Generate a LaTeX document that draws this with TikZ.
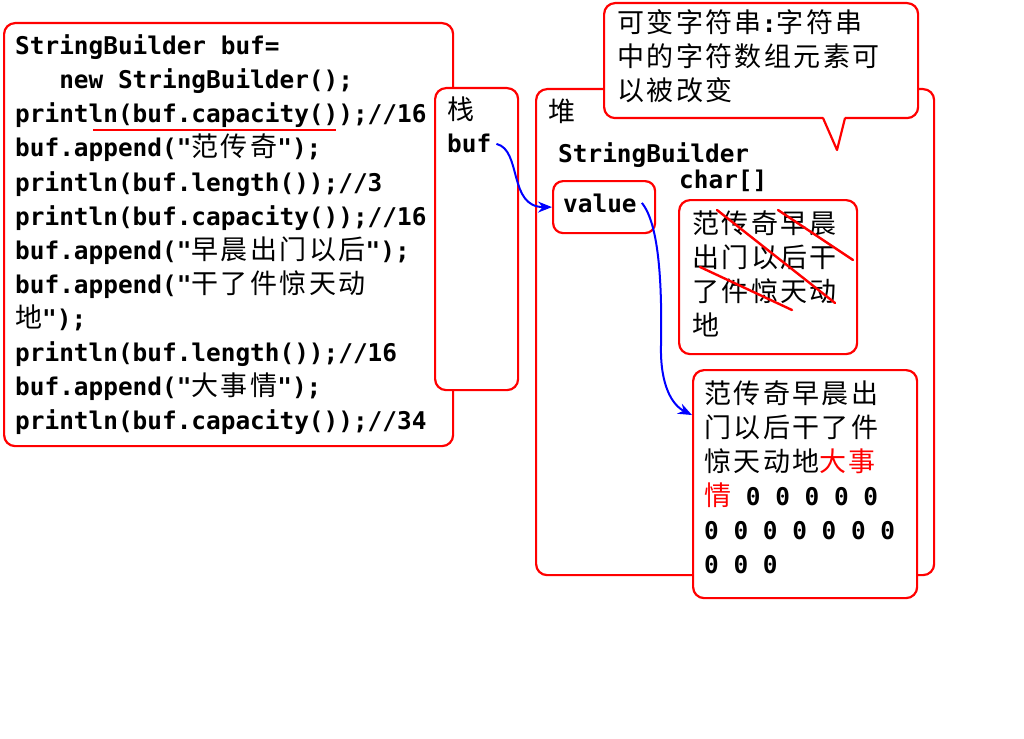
\documentclass[tikz,border=0pt]{standalone}
\usepackage{fontspec}
\usetikzlibrary{arrows.meta}
\usetikzlibrary{calc}
\newfontfamily\codefont[UprightFont=* Bold]{DejaVu Sans Mono}
\newfontfamily\cjkfont[LetterSpace=9]{Noto Sans CJK SC}
\newcommand{\codesize}{\fontsize{24.4}{34}\selectfont}
\newcommand{\hanzi}[1]{{\fontsize{27}{34}\selectfont\cjkfont #1}}
\tikzset{
  box/.style={draw=red, line width=2.2pt, rounded corners=11pt, fill=white, inner sep=0pt, anchor=north west},
  txt/.style={anchor=base west, inner sep=0pt, font=\codesize\codefont},
  ptr/.style={draw=blue, line width=2pt, -{Stealth[length=14pt,width=11pt]}},
  strike/.style={draw=red, line width=2.4pt, line cap=round}
}
\begin{document}
\begin{tikzpicture}[x=1pt,y=-1pt]
  \useasboundingbox (0,0) rectangle (1024,738);
  \node[box, minimum width=449pt, minimum height=423pt] (code) at (3,22) {};
  \foreach \codeline [count=\n] in {
      {StringBuilder buf=},
      {\ \ \ new StringBuilder();},
      {println(buf.capacity());//16},
      {buf.append("\hanzi{范传奇}");},
      {println(buf.length());//3},
      {println(buf.capacity());//16},
      {buf.append("\hanzi{早晨出门以后}");},
      {buf.append("\hanzi{干了件惊天动}},
      {\hanzi{地}");},
      {println(buf.length());//16},
      {buf.append("\hanzi{大事情}");},
      {println(buf.capacity());//34}}
    \node[txt] (codeline\n) at (15,{21+34*\n}) {\codeline};
  \draw[strike, line cap=butt, line width=2.8pt] (93,130) -- (336,130);
  \node[box, minimum width=83pt, minimum height=302pt] (stack) at (434,87) {};
  \node[txt] (stacklabel) at (447,120) {\hanzi{栈}};
  \node[txt] (buf) at (447,153) {buf};
  \node[box, minimum width=398pt, minimum height=486pt] (heap) at (535,88) {};
  \node[box, minimum width=314pt, minimum height=115pt] (note) at (603,2) {};
  \fill[white] (823,116) -- (837,150) -- (845,116) -- cycle;
  \draw[red, line width=2.2pt, line join=round] (823,118) -- (837,150) -- (845,118);
  \foreach \noteline [count=\n] in {
      {\hanzi{可变字符串}:\hanzi{字符串}},
      {\hanzi{中的字符数组元素可}},
      {\hanzi{以被改变}}}
    \node[txt] (noteline\n) at (617,{-1+34*\n}) {\noteline};
  \node[txt] (heaplabel) at (548,122) {\hanzi{堆}};
  \node[txt] (sbtype) at (558,163) {StringBuilder};
  \node[txt] (chartype) at (679,188) {char[]};
  \node[box, minimum width=102pt, minimum height=52pt, rounded corners=10pt] (value) at (552,180) {};
  \node[txt] (valuetext) at (563,212) {value};
  \node[box, minimum width=178pt, minimum height=154pt] (chars) at (678,199) {};
  \foreach \charline [count=\n] in {
      {\hanzi{范传奇早晨}},
      {\hanzi{出门以后干}},
      {\hanzi{了件惊天动}},
      {\hanzi{地}}}
    \node[txt] (charline\n) at (692,{199+34*\n}) {\charline};
  \draw[strike] (717,210) -- (835,303);
  \draw[strike] (778,210) -- (853,260);
  \draw[strike] (700,267) -- (792,310);
  \node[box, minimum width=224pt, minimum height=228pt] (newchars) at (692,369) {};
  \foreach \newline [count=\n] in {
      {\hanzi{范传奇早晨出}},
      {\hanzi{门以后干了件}},
      {\hanzi{惊天动地\color{red}大事}},
      {\hanzi{\color{red}情} 0 0 0 0 0},
      {0 0 0 0 0 0 0},
      {0 0 0}}
    \node[txt] (newline\n) at (704,{369+34*\n}) {\newline};
  \draw[ptr] ([xshift=5pt]buf.east) .. controls (522,150) and (508,207) .. (value.west);
  \draw[ptr] ([xshift=5pt]valuetext.east) .. controls (660,225) and (662,290) .. (661,345)
    .. controls (660,385) and (672,405) .. ($(newchars.north west)!.2!(newchars.south west)$);
\end{tikzpicture}
\end{document}
